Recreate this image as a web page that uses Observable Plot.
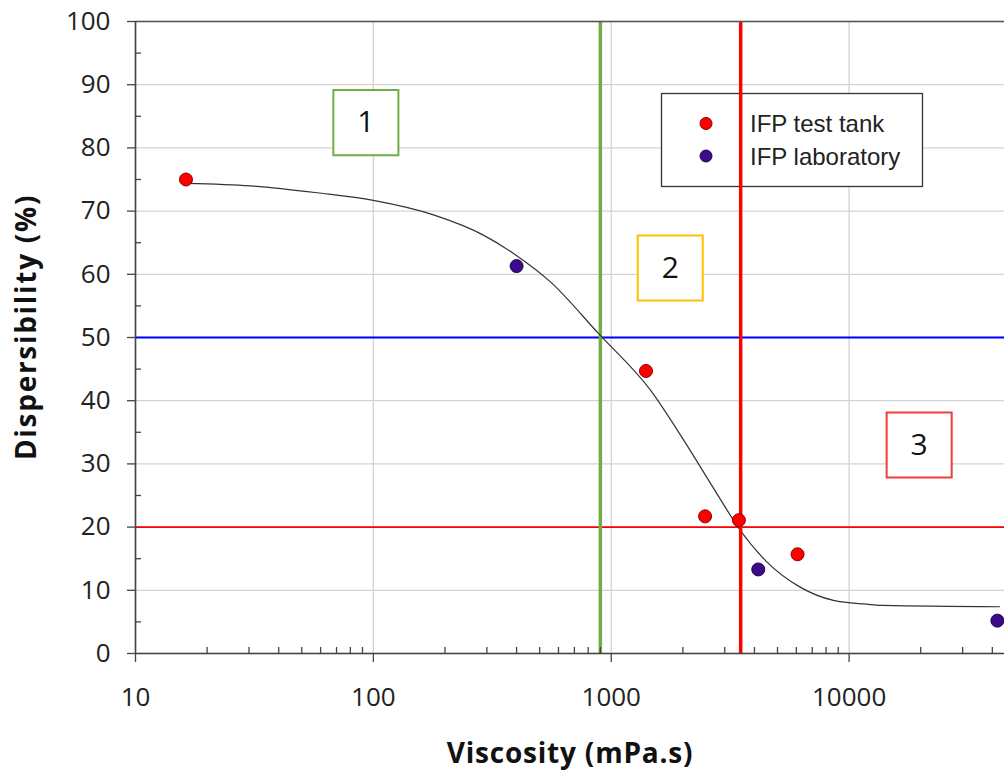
<!DOCTYPE html>
<html><head><meta charset="utf-8">
<script src="https://cdn.jsdelivr.net/npm/d3@7"></script>
<script src="https://cdn.jsdelivr.net/npm/@observablehq/plot@0.6"></script>
<style>
body{margin:0;background:#fff;}
#chart svg{display:block;}
#chart [aria-label="x-axis label"] text{font-weight:bold;font-size:28px;font-family:"Open Sans";fill:#111;letter-spacing:0.8px;}
</style></head><body><div id="chart"></div>
<script>
// IFP test tank
const tankViscosity = [16.3, 1400, 2480, 3440, 6070];
const tankDispersibility = [75.0, 44.7, 21.7, 21.1, 15.7];
// IFP laboratory
const labViscosity = [400, 4150, 42000];
const labDispersibility = [61.3, 13.3, 5.2];
// fitted trend curve
const trendViscosity = [16.5, 30.4, 58, 100, 179, 290, 402, 555, 885, 1459, 2013, 2780, 3485, 4507, 6226, 8590, 11860, 13930, 42850];
const trendDispersibility = [74.4, 74.0, 72.9, 71.7, 69.4, 66.2, 62.9, 58.8, 50.6, 41.7, 33.8, 25.3, 19.5, 14.5, 10.5, 8.4, 7.8, 7.6, 7.4];
// threshold lines
const greenViscosity = [900];
const redViscosity = [3500];
const blueDispersibility = [50];
const redDispersibility = [20];
// zone labels
const zoneLabels = ["1", "2", "3"];
const zoneViscosity = [93, 1770, 19700];
const zoneDispersibility = [84, 61, 33];
const zoneColors = ["#70ad47", "#ffc000", "#f03c3c"];
// ticks
const xTicks = [10, 100, 1000, 10000];
const xMinorTicks = [20,30,40,50,60,70,80,90,200,300,400,500,600,700,800,900,2000,3000,4000,5000,6000,7000,8000,9000,20000,30000,40000];
const yTicks = [0,10,20,30,40,50,60,70,80,90,100];
const yMinorTicks = [5,15,25,35,45,55,65,75,85,95];
const legendLabels = ["IFP test tank", "IFP laboratory"];
const legendColors = [["#ff0000", "#8a0000"], ["#3d0a8c", "#1e0548"]];
const yTitle = "Dispersibility (%)";

const tank = tankViscosity.map((v, i) => ({v, d: tankDispersibility[i]}));
const lab = labViscosity.map((v, i) => ({v, d: labDispersibility[i]}));
const trend = trendViscosity.map((v, i) => ({v, d: trendDispersibility[i]}));
const zones = zoneLabels.map((t, i) => ({t, v: zoneViscosity[i], d: zoneDispersibility[i], c: zoneColors[i]}));

function legendMark() {
  const g = d3.create("svg:g");
  g.append("rect").attr("x", 661.5).attr("y", 93.5).attr("width", 261).attr("height", 93)
    .attr("fill", "white").attr("stroke", "#333").attr("stroke-width", 1.3);
  legendLabels.forEach((lab, i) => {
    const cy = 123.5 + i * 32.5;
    g.append("circle").attr("cx", 706).attr("cy", cy).attr("r", 6)
      .attr("fill", legendColors[i][0]).attr("stroke", legendColors[i][1]).attr("stroke-width", 1);
    g.append("text").attr("x", 750).attr("y", cy + 8.5).attr("text-anchor", "start")
      .attr("font-family", "Liberation Sans, Arial")
      .attr("font-size", 24).attr("fill", "#222").text(lab);
  });
  return g.node();
}

function yTitleMark() {
  const t = d3.create("svg:text");
  t.attr("transform", "translate(25,327) rotate(-90)").attr("text-anchor", "middle")
    .attr("dominant-baseline", "central").attr("font-family", "Open Sans").attr("font-weight", "bold")
    .attr("font-size", 28).attr("letter-spacing", "1.7px").attr("fill", "#111").text(yTitle);
  return t.node();
}

const chart = Plot.plot({
  width: 1004, height: 774,
  marginLeft: 135, marginRight: 0, marginTop: 21, marginBottom: 121,
  style: {fontFamily: "Open Sans", fontSize: "26px", color: "#222", background: "white"},
  x: {type: "log", domain: [10, 45000]},
  y: {domain: [0, 100]},
  marks: [
    Plot.gridX(xTicks, {stroke: "#d3d3d3", strokeOpacity: 1, strokeWidth: 1.3}),
    Plot.gridY(yTicks, {stroke: "#d3d3d3", strokeOpacity: 1, strokeWidth: 1.3}),
    legendMark,
    Plot.dot(zones, {x: "v", y: "d", symbol: "square", r: 36.7, fill: "white", stroke: "c", strokeWidth: 2}),
    Plot.text(zones, {x: "v", y: "d", text: "t", fontSize: 30, fontFamily: "Open Sans", fill: "#111"}),
    Plot.ruleY(redDispersibility, {stroke: "#ff0000", strokeWidth: 1.6}),
    Plot.ruleY(blueDispersibility, {stroke: "#0000ff", strokeWidth: 2.2}),
    Plot.ruleX(greenViscosity, {stroke: "#70ad47", strokeWidth: 3.5}),
    Plot.line(trend, {x: "v", y: "d", curve: "monotone-x", stroke: "#333", strokeWidth: 1.2}),
    Plot.ruleX(redViscosity, {stroke: "#ff0000", strokeWidth: 3.5}),
    Plot.dot(tank, {x: "v", y: "d", r: 6.5, fill: "#ff0000", stroke: "#8a0000", strokeWidth: 1}),
    Plot.dot(lab, {x: "v", y: "d", r: 6.5, fill: "#3d0a8c", stroke: "#1e0548", strokeWidth: 1}),
    Plot.tickX(xMinorTicks, {insetTop: 626, stroke: "#444", strokeWidth: 1.3}),
    Plot.tickY(yMinorTicks, {insetRight: 863, stroke: "#444", strokeWidth: 1.3}),
    Plot.ruleY([100], {stroke: "#555", strokeWidth: 1.6}),
    Plot.ruleY([0], {stroke: "#444", strokeWidth: 1.6}),
    Plot.ruleX([10], {stroke: "#444", strokeWidth: 1.6}),
    Plot.axisX(xTicks, {tickSize: 9, tickPadding: 25, stroke: "#444", strokeWidth: 1.3, tickFormat: d => String(d),
      label: "Viscosity (mPa.s)", labelAnchor: "center", labelOffset: 109, labelArrow: "none"}),
    Plot.axisY(yTicks, {tickSize: 8, tickPadding: 17, stroke: "#444", strokeWidth: 1.3, label: null}),
    yTitleMark
  ]
});
document.getElementById("chart").appendChild(chart);
</script></body></html>
